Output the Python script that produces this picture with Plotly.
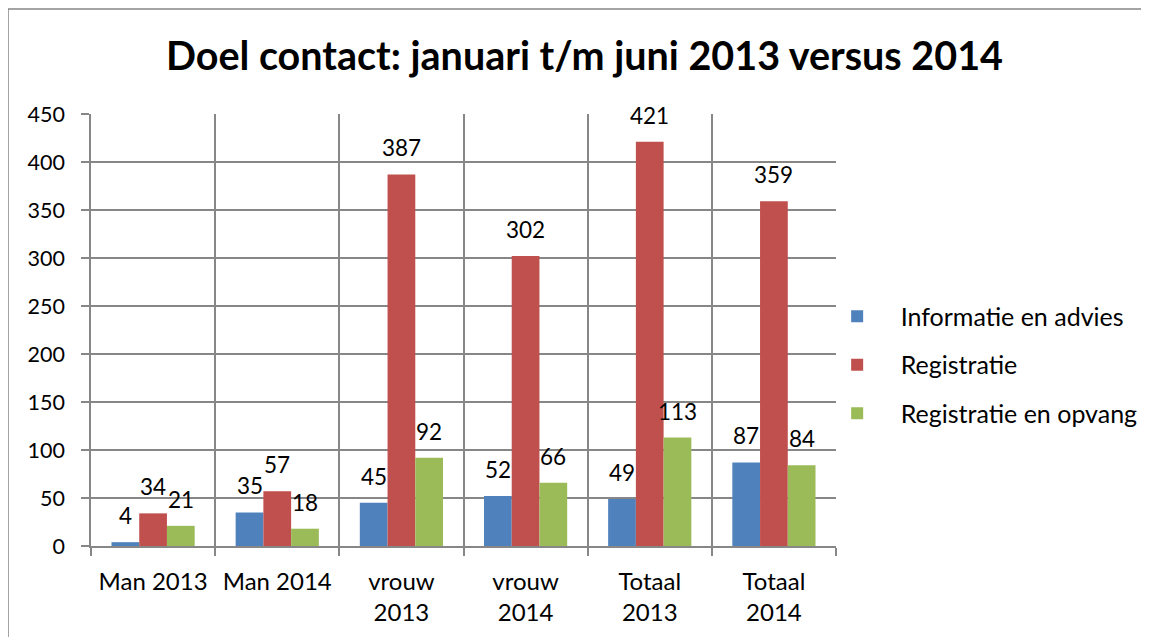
import plotly.graph_objects as go

# categories and series
categories = ["Man 2013", "Man 2014", "vrouw<br>2013", "vrouw<br>2014", "Totaal<br>2013", "Totaal<br>2014"]
informatie = [4, 35, 45, 52, 49, 87]
registratie = [34, 57, 387, 302, 421, 359]
opvang = [21, 18, 92, 66, 113, 84]

series = [
    ("Informatie en advies", informatie, "#4F81BD"),
    ("Registratie", registratie, "#C0504D"),
    ("Registratie en opvang", opvang, "#9BBB59"),
]

FONT = "Lato, 'Open Sans', sans-serif"
GRID = "#878787"
BARGAP = 0.33
n = len(series)
bar_w = (1 - BARGAP) / n

fig = go.Figure()
for i, (name, vals, color) in enumerate(series):
    fig.add_trace(go.Bar(
        x=categories, y=vals, name=name, legendgroup=str(i),
        marker=dict(color=color, line=dict(width=0)),
    ))
    # data labels, Excel style: floating a bit above each bar
    for j, v in enumerate(vals):
        fig.add_annotation(
            x=j + (i - (n - 1) / 2) * bar_w, y=v, xref="x", yref="y",
            text=str(v), showarrow=False, yanchor="bottom", yshift=11,
            font=dict(family=FONT, size=22.5, color="black"),
        )

fig.update_layout(
    width=1149, height=637,
    margin=dict(l=83, r=321, t=106, b=99),
    paper_bgcolor="white", plot_bgcolor="white",
    barmode="group", bargap=BARGAP, bargroupgap=0,
    font=dict(family=FONT, size=21, color="black"),
    title=dict(text="<b>Doel contact: januari t/m juni 2013 versus 2014</b>",
               x=0.5017, xref="container", xanchor="center",
               y=0.925, yref="container", yanchor="middle",
               font=dict(family=FONT, size=39.5, color="black")),
    legend=dict(x=0.970, xanchor="left", y=0.419, yanchor="middle",
                font=dict(family=FONT, size=25), tracegroupgap=13,
                itemwidth=77, bgcolor="rgba(0,0,0,0)"),
    showlegend=True,
)

fig.update_xaxes(
    type="category", tickson="boundaries", showgrid=True, gridcolor=GRID, gridwidth=1.5,
    ticks="outside", ticklen=8, tickcolor=GRID, tickwidth=1.5,
    showline=True, linecolor=GRID, linewidth=1.5, mirror=False,
    tickfont=dict(family=FONT, size=24), ticklabelstandoff=13, automargin=False,
)
fig.update_yaxes(
    range=[0, 450], dtick=50, showgrid=True, gridcolor=GRID, gridwidth=1.5,
    ticks="outside", ticklen=8, tickcolor=GRID, tickwidth=1.5,
    showline=True, linecolor=GRID, linewidth=1.5, zeroline=False,
    tickfont=dict(family=FONT, size=21.5), ticklabelstandoff=12, automargin=False,
)

# chart frame around the whole figure
fig.add_shape(type="rect", xref="paper", yref="paper",
              x0=-0.1114, x1=1.45, y0=-0.25, y1=1.243,
              line=dict(color="#868686", width=1.5), layer="below")

fig.write_html("out.html")
